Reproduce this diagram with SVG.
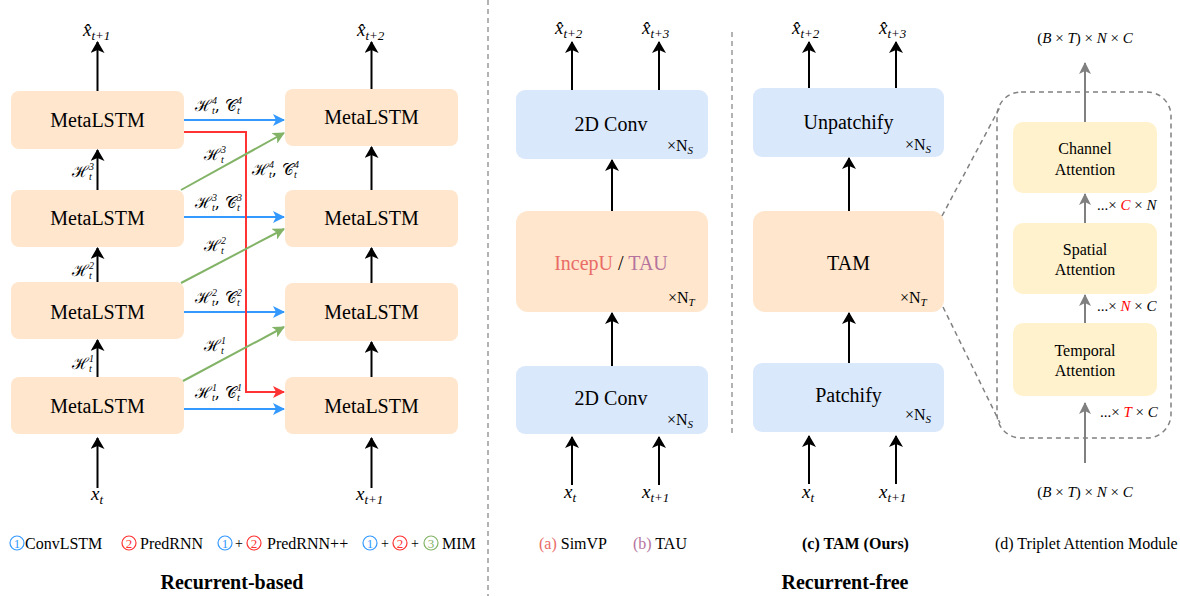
<svg xmlns="http://www.w3.org/2000/svg" width="1180" height="596" viewBox="0 0 1180 596">
<defs>
<style>
.t{font-family:"Liberation Serif","Times New Roman",serif;fill:#000}
.bx{font-family:"Liberation Serif",serif;font-size:20px;text-anchor:middle;fill:#000}
.m{font-family:"Liberation Serif",serif;font-style:italic;font-size:19px;fill:#000}
.s{font-size:13px}
.h{font-family:"DejaVu Serif","Liberation Serif",serif;font-size:16px;fill:#000}
.hs{font-family:"Liberation Serif",serif;font-size:10px;font-style:italic}
.or{fill:#FFE6CC}
.bl{fill:#DAE8FC}
.ye{fill:#FFF2CC}
.k{stroke:#000;stroke-width:2;fill:none;marker-end:url(#ak)}
.b{stroke:#3399FF;stroke-width:2;fill:none;marker-end:url(#ab)}
.r{stroke:#FF3333;stroke-width:2;fill:none;marker-end:url(#ar)}
.g{stroke:#82B366;stroke-width:2;fill:none;marker-end:url(#ag)}
.gr{stroke:#808080;stroke-width:2;fill:none;marker-end:url(#agr)}
.dash{stroke:#999;stroke-width:1.5;fill:none;stroke-dasharray:5 4}
</style>
<marker id="ak" viewBox="0 0 12 14" markerWidth="12" markerHeight="14" refX="11" refY="7" orient="auto" markerUnits="userSpaceOnUse"><path d="M0,0 L12,7 L0,14 L3,7 z" fill="#000"/></marker>
<marker id="ab" viewBox="0 0 12 12" markerWidth="12" markerHeight="12" refX="11" refY="6" orient="auto" markerUnits="userSpaceOnUse"><path d="M0,0 L12,6 L0,12 L3,6 z" fill="#3399FF"/></marker>
<marker id="ar" viewBox="0 0 12 12" markerWidth="12" markerHeight="12" refX="11" refY="6" orient="auto" markerUnits="userSpaceOnUse"><path d="M0,0 L12,6 L0,12 L3,6 z" fill="#FF3333"/></marker>
<marker id="ag" viewBox="0 0 12 12" markerWidth="12" markerHeight="12" refX="11" refY="6" orient="auto" markerUnits="userSpaceOnUse"><path d="M0,0 L12,6 L0,12 L3,6 z" fill="#82B366"/></marker>
<marker id="agr" viewBox="0 0 12 12" markerWidth="12" markerHeight="12" refX="11" refY="6" orient="auto" markerUnits="userSpaceOnUse"><path d="M0,0 L12,6 L0,12 L3,6 z" fill="#808080"/></marker>
</defs>
<rect width="1180" height="596" fill="#fff"/>

<!-- dividers -->
<line class="dash" x1="488" y1="0" x2="488" y2="596"/>
<line class="dash" x1="732" y1="32" x2="732" y2="436"/>

<!-- Left panel nodes -->
<g id="l1"><rect class="or" x="11" y="91" width="173" height="58" rx="8"/><text class="bx" x="97.5" y="127">MetaLSTM</text></g>
<g id="l2"><rect class="or" x="11" y="190" width="173" height="57" rx="8"/><text class="bx" x="97.5" y="225">MetaLSTM</text></g>
<g id="l3"><rect class="or" x="11" y="282" width="173" height="57" rx="8"/><text class="bx" x="97.5" y="319">MetaLSTM</text></g>
<g id="l4"><rect class="or" x="11" y="377" width="173" height="57" rx="8"/><text class="bx" x="97.5" y="413">MetaLSTM</text></g>
<g id="r1"><rect class="or" x="285" y="89" width="173" height="57" rx="8"/><text class="bx" x="371.5" y="124">MetaLSTM</text></g>
<g id="r2"><rect class="or" x="285" y="190" width="173" height="57" rx="8"/><text class="bx" x="371.5" y="225">MetaLSTM</text></g>
<g id="r3"><rect class="or" x="285" y="283" width="173" height="58" rx="8"/><text class="bx" x="371.5" y="319">MetaLSTM</text></g>
<g id="r4"><rect class="or" x="285" y="377" width="173" height="57" rx="8"/><text class="bx" x="371.5" y="413">MetaLSTM</text></g>

<!-- Middle (a)/(b) nodes -->
<g id="a1"><rect class="bl" x="516" y="90" width="192" height="69" rx="9"/><text class="bx" x="611" y="131">2D Conv</text><text class="t" x="667" y="151" font-size="16">×N<tspan font-size="11" font-style="italic" dy="3">S</tspan></text></g>
<g id="a2"><rect class="or" x="516" y="211" width="192" height="101" rx="12"/><text class="bx" x="611" y="270" font-size="22"><tspan fill="#EA6B66">IncepU</tspan> / <tspan fill="#B5739D">TAU</tspan></text><text class="t" x="668" y="303" font-size="16">×N<tspan font-size="11" font-style="italic" dy="3">T</tspan></text></g>
<g id="a3"><rect class="bl" x="516" y="366" width="192" height="68" rx="9"/><text class="bx" x="611" y="405">2D Conv</text><text class="t" x="667" y="425" font-size="16">×N<tspan font-size="11" font-style="italic" dy="3">S</tspan></text></g>

<!-- (c) nodes -->
<g id="c1"><rect class="bl" x="753" y="88" width="191" height="69" rx="9"/><text class="bx" x="848.5" y="129">Unpatchify</text><text class="t" x="905" y="150" font-size="16">×N<tspan font-size="11" font-style="italic" dy="3">S</tspan></text></g>
<g id="c2"><rect class="or" x="753" y="211" width="191" height="101" rx="12"/><text class="bx" x="848.5" y="270" font-size="22">TAM</text><text class="t" x="900" y="303" font-size="16">×N<tspan font-size="11" font-style="italic" dy="3">T</tspan></text></g>
<g id="c3"><rect class="bl" x="753" y="363" width="191" height="69" rx="9"/><text class="bx" x="848.5" y="402">Patchify</text><text class="t" x="905" y="420" font-size="16">×N<tspan font-size="11" font-style="italic" dy="3">S</tspan></text></g>

<!-- (d) nodes -->
<g id="d0"><rect class="dash" x="997" y="92" width="174" height="346" rx="24" style="stroke:#808080"/></g>
<g id="d1"><rect class="ye" x="1013" y="122" width="144" height="71" rx="10"/><text class="t" x="1085" y="154" font-size="16" text-anchor="middle">Channel</text><text class="t" x="1085" y="175" font-size="16" text-anchor="middle">Attention</text></g>
<g id="d2"><rect class="ye" x="1013" y="223" width="144" height="71" rx="10"/><text class="t" x="1085" y="255" font-size="16" text-anchor="middle">Spatial</text><text class="t" x="1085" y="275" font-size="16" text-anchor="middle">Attention</text></g>
<g id="d3"><rect class="ye" x="1013" y="323" width="144" height="73" rx="10"/><text class="t" x="1085" y="356" font-size="16" text-anchor="middle">Temporal</text><text class="t" x="1085" y="376" font-size="16" text-anchor="middle">Attention</text></g>

<!-- connectors -->
<g id="connectors">
<line class="k" x1="97.5" y1="91" x2="97.5" y2="42"/>
<line class="k" x1="97.5" y1="190" x2="97.5" y2="150"/>
<line class="k" x1="97.5" y1="282" x2="97.5" y2="248"/>
<line class="k" x1="97.5" y1="377" x2="97.5" y2="340"/>
<line class="k" x1="97.5" y1="488" x2="97.5" y2="438"/>
<line class="k" x1="371.5" y1="89" x2="371.5" y2="42"/>
<line class="k" x1="371.5" y1="190" x2="371.5" y2="147"/>
<line class="k" x1="371.5" y1="283" x2="371.5" y2="248"/>
<line class="k" x1="371.5" y1="377" x2="371.5" y2="342"/>
<line class="k" x1="371.5" y1="488" x2="371.5" y2="438"/>

<line class="b" x1="184" y1="120" x2="284" y2="120"/>
<line class="b" x1="184" y1="217" x2="284" y2="217"/>
<line class="b" x1="184" y1="312" x2="284" y2="312"/>
<line class="b" x1="184" y1="409" x2="284" y2="409"/>
<polyline class="r" points="184,132 246,132 246,392 284,392"/>
<line class="g" x1="181" y1="190" x2="284" y2="133"/>
<line class="g" x1="181" y1="283" x2="284" y2="229"/>
<line class="g" x1="183" y1="381" x2="284" y2="327"/>

<line class="k" x1="572" y1="90" x2="572" y2="42"/>
<line class="k" x1="659" y1="90" x2="659" y2="42"/>
<line class="k" x1="612" y1="211" x2="612" y2="160"/>
<line class="k" x1="612" y1="366" x2="612" y2="313"/>
<line class="k" x1="572" y1="485" x2="572" y2="437"/>
<line class="k" x1="659" y1="485" x2="659" y2="437"/>

<line class="k" x1="809" y1="88" x2="809" y2="42"/>
<line class="k" x1="896" y1="88" x2="896" y2="42"/>
<line class="k" x1="849" y1="211" x2="849" y2="158"/>
<line class="k" x1="849" y1="363" x2="849" y2="313"/>
<line class="k" x1="809" y1="484" x2="809" y2="436"/>
<line class="k" x1="896" y1="484" x2="896" y2="436"/>

<line class="dash" x1="942" y1="216" x2="1000" y2="107" style="stroke:#808080"/>
<line class="dash" x1="943" y1="307" x2="1000" y2="423" style="stroke:#808080"/>

<line class="gr" x1="1085" y1="122" x2="1085" y2="63"/>
<line class="gr" x1="1085" y1="223" x2="1085" y2="194"/>
<line class="gr" x1="1085" y1="323" x2="1085" y2="295"/>
<line class="gr" x1="1085" y1="463" x2="1085" y2="403"/>
</g>

<!-- math labels -->
<g id="labels">
<text class="m" x="83" y="36">x̂<tspan class="s" dy="4">t+1</tspan></text>
<text class="m" x="357" y="36">x̂<tspan class="s" dy="4">t+2</tspan></text>
<text class="m" x="91" y="500">x<tspan class="s" dy="4">t</tspan></text>
<text class="m" x="356" y="500">x<tspan class="s" dy="4">t+1</tspan></text>

<text class="m" x="555" y="34">x̂<tspan class="s" dy="4">t+2</tspan></text>
<text class="m" x="642" y="34">x̂<tspan class="s" dy="4">t+3</tspan></text>
<text class="m" x="564" y="498">x<tspan class="s" dy="4">t</tspan></text>
<text class="m" x="642" y="498">x<tspan class="s" dy="4">t+1</tspan></text>

<text class="m" x="792" y="34">x̂<tspan class="s" dy="4">t+2</tspan></text>
<text class="m" x="879" y="34">x̂<tspan class="s" dy="4">t+3</tspan></text>
<text class="m" x="802" y="498">x<tspan class="s" dy="4">t</tspan></text>
<text class="m" x="879" y="498">x<tspan class="s" dy="4">t+1</tspan></text>

<text class="h" x="72" y="177">ℋ<tspan class="hs" dy="-7">3</tspan><tspan class="hs" dx="-5" dy="10">t</tspan></text>
<text class="h" x="72" y="276">ℋ<tspan class="hs" dy="-7">2</tspan><tspan class="hs" dx="-5" dy="10">t</tspan></text>
<text class="h" x="72" y="369">ℋ<tspan class="hs" dy="-7">1</tspan><tspan class="hs" dx="-5" dy="10">t</tspan></text>

<text class="h" x="195" y="111" fill="#3399FF">ℋ<tspan class="hs" dy="-7">4</tspan><tspan class="hs" dx="-5" dy="10">t</tspan><tspan dy="-3">, 𝒞</tspan><tspan class="hs" dy="-7">4</tspan><tspan class="hs" dx="-5" dy="10">t</tspan></text>
<text class="h" x="195" y="208" fill="#3399FF">ℋ<tspan class="hs" dy="-7">3</tspan><tspan class="hs" dx="-5" dy="10">t</tspan><tspan dy="-3">, 𝒞</tspan><tspan class="hs" dy="-7">3</tspan><tspan class="hs" dx="-5" dy="10">t</tspan></text>
<text class="h" x="195" y="303" fill="#3399FF">ℋ<tspan class="hs" dy="-7">2</tspan><tspan class="hs" dx="-5" dy="10">t</tspan><tspan dy="-3">, 𝒞</tspan><tspan class="hs" dy="-7">2</tspan><tspan class="hs" dx="-5" dy="10">t</tspan></text>
<text class="h" x="195" y="398" fill="#3399FF">ℋ<tspan class="hs" dy="-7">1</tspan><tspan class="hs" dx="-5" dy="10">t</tspan><tspan dy="-3">, 𝒞</tspan><tspan class="hs" dy="-7">1</tspan><tspan class="hs" dx="-5" dy="10">t</tspan></text>
<text class="h" x="252" y="175" fill="#FF3333">ℋ<tspan class="hs" dy="-7">4</tspan><tspan class="hs" dx="-5" dy="10">t</tspan><tspan dy="-3">, 𝒞</tspan><tspan class="hs" dy="-7">4</tspan><tspan class="hs" dx="-5" dy="10">t</tspan></text>
<text class="h" x="204" y="160" fill="#82B366">ℋ<tspan class="hs" dy="-7">3</tspan><tspan class="hs" dx="-5" dy="10">t</tspan></text>
<text class="h" x="204" y="251" fill="#82B366">ℋ<tspan class="hs" dy="-7">2</tspan><tspan class="hs" dx="-5" dy="10">t</tspan></text>
<text class="h" x="204" y="351" fill="#82B366">ℋ<tspan class="hs" dy="-7">1</tspan><tspan class="hs" dx="-5" dy="10">t</tspan></text>

<text class="t" x="1085" y="43" font-size="15" text-anchor="middle">(<tspan font-style="italic">B</tspan> × <tspan font-style="italic">T</tspan>) × <tspan font-style="italic">N</tspan> × <tspan font-style="italic">C</tspan></text>
<text class="t" x="1085" y="497" font-size="15" text-anchor="middle">(<tspan font-style="italic">B</tspan> × <tspan font-style="italic">T</tspan>) × <tspan font-style="italic">N</tspan> × <tspan font-style="italic">C</tspan></text>
<text class="t" x="1097" y="210" font-size="15">...× <tspan font-style="italic" fill="#FF0000">C</tspan> × <tspan font-style="italic">N</tspan></text>
<text class="t" x="1097" y="311" font-size="15">...× <tspan font-style="italic" fill="#FF0000">N</tspan> × <tspan font-style="italic">C</tspan></text>
<text class="t" x="1100" y="417" font-size="15">...× <tspan font-style="italic" fill="#FF0000">T</tspan> × <tspan font-style="italic">C</tspan></text>
</g>

<!-- legend / captions -->
<g id="legend" font-family="Liberation Serif, serif" font-size="13">
<circle cx="17" cy="543" r="7" fill="none" stroke="#3399FF" stroke-width="1.2"/><text x="17" y="547.5" text-anchor="middle" fill="#3399FF">1</text>
<text class="t" x="25" y="549" font-size="16">ConvLSTM</text>
<circle cx="129" cy="543" r="7" fill="none" stroke="#FF3333" stroke-width="1.2"/><text x="129" y="547.5" text-anchor="middle" fill="#FF3333">2</text>
<text class="t" x="140" y="549" font-size="16">PredRNN</text>
<circle cx="225" cy="543" r="7" fill="none" stroke="#3399FF" stroke-width="1.2"/><text x="225" y="547.5" text-anchor="middle" fill="#3399FF">1</text>
<text class="t" x="239" y="548" font-size="14" text-anchor="middle">+</text>
<circle cx="254" cy="543" r="7" fill="none" stroke="#FF3333" stroke-width="1.2"/><text x="254" y="547.5" text-anchor="middle" fill="#FF3333">2</text>
<text class="t" x="267" y="549" font-size="16">PredRNN++</text>
<circle cx="370" cy="543" r="7" fill="none" stroke="#3399FF" stroke-width="1.2"/><text x="370" y="547.5" text-anchor="middle" fill="#3399FF">1</text>
<text class="t" x="385" y="548" font-size="14" text-anchor="middle">+</text>
<circle cx="400" cy="543" r="7" fill="none" stroke="#FF3333" stroke-width="1.2"/><text x="400" y="547.5" text-anchor="middle" fill="#FF3333">2</text>
<text class="t" x="415" y="548" font-size="14" text-anchor="middle">+</text>
<circle cx="431" cy="543" r="7" fill="none" stroke="#82B366" stroke-width="1.2"/><text x="431" y="547.5" text-anchor="middle" fill="#82B366">3</text>
<text class="t" x="442" y="549" font-size="16">MIM</text>
<text class="t" x="232" y="589" font-size="20" font-weight="bold" text-anchor="middle">Recurrent-based</text>

<text class="t" x="539" y="549" font-size="16"><tspan fill="#EA6B66">(a)</tspan> SimVP</text>
<text class="t" x="633" y="549" font-size="16"><tspan fill="#B5739D">(b)</tspan> TAU</text>
<text class="t" x="802" y="549" font-size="16" font-weight="bold">(c) TAM (Ours)</text>
<text class="t" x="995" y="549" font-size="16">(d) Triplet Attention Module</text>
<text class="t" x="845" y="589" font-size="20" font-weight="bold" text-anchor="middle">Recurrent-free</text>
</g>
</svg>
